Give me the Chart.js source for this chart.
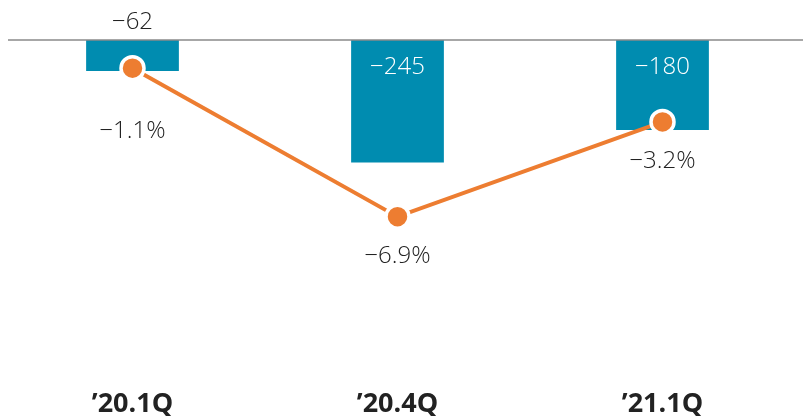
<!DOCTYPE html>
<html>
<head>
<meta charset="utf-8">
<script src="https://cdn.jsdelivr.net/npm/chart.js@4.4.1/dist/chart.umd.min.js"></script>
<style>
  html, body { margin: 0; padding: 0; background: #fff; }
  #wrap { width: 803px; height: 416px; }
</style>
</head>
<body>
<div id="wrap"><canvas id="chart"></canvas></div>
<script>
const categories = ["\u201920.1Q", "\u201920.4Q", "\u201921.1Q"];
const barValues = [-62, -245, -180];
const rateValues = [-1.1, -6.9, -3.2];

const BAR_COLOR = "rgb(0, 140, 176)";
const LINE_COLOR = "rgb(237, 125, 49)";
const TEXT_COLOR = "#222";
const FONT = "'Open Sans', 'Noto Sans', sans-serif";

const fmt = (v, suffix) => (v < 0 ? "\u2212" : "") + Math.abs(v).toFixed(suffix ? 1 : 0) + (suffix || "");

// labels + baseline drawn by hand
const labelPlugin = {
  id: "labels",
  afterDatasetsDraw(chart) {
    const ctx = chart.ctx;
    const y0 = chart.scales.y.getPixelForValue(0);

    ctx.save();
    ctx.strokeStyle = "#8a8a8a";
    ctx.lineWidth = 1.5;
    ctx.beginPath();
    ctx.moveTo(8, y0);
    ctx.lineTo(chart.width, y0);
    ctx.stroke();

    ctx.font = "300 24px " + FONT;
    ctx.textAlign = "center";
    ctx.textBaseline = "middle";

    const bars = chart.getDatasetMeta(1).data;
    bars.forEach((bar, i) => {
      const h = Math.abs(bar.base - bar.y);
      if (h < 60) {
        ctx.fillStyle = TEXT_COLOR;
        ctx.fillText(fmt(barValues[i]), bar.x, y0 - 18);
      } else {
        ctx.fillStyle = "#fff";
        ctx.fillText(fmt(barValues[i]), bar.x, y0 + 27);
      }
    });

    const pts = chart.getDatasetMeta(0).data;
    const offsets = [63, 40, 39];
    ctx.fillStyle = TEXT_COLOR;
    pts.forEach((p, i) => {
      ctx.fillText(fmt(rateValues[i], "%"), p.x, p.y + offsets[i]);
    });
    ctx.restore();
  }
};

new Chart(document.getElementById("chart"), {
  type: "bar",
  data: {
    labels: categories,
    datasets: [
      {
        type: "line",
        label: "rate",
        data: rateValues,
        yAxisID: "y1",
        borderColor: LINE_COLOR,
        borderWidth: 4,
        pointBackgroundColor: LINE_COLOR,
        pointBorderColor: "#fff",
        pointBorderWidth: 3.5,
        pointRadius: 11.5,
        tension: 0,
        order: 0
      },
      {
        label: "value",
        data: barValues,
        yAxisID: "y",
        backgroundColor: BAR_COLOR,
        categoryPercentage: 1,
        barPercentage: 0.35,
        order: 1
      }
    ]
  },
  options: {
    responsive: true,
    maintainAspectRatio: false,
    animation: false,
    layout: { autoPadding: false, padding: { top: 40, right: 8, left: 0, bottom: -12 } },
    plugins: {
      legend: { display: false },
      tooltip: { enabled: false }
    },
    scales: {
      x: {
        grid: { display: false, drawTicks: false },
        border: { display: false },
        ticks: {
          color: TEXT_COLOR,
          padding: 10,
          font: { family: FONT, size: 27, weight: "bold", lineHeight: 1 }
        }
      },
      y: {
        display: false,
        min: -682,
        max: 0
      },
      y1: {
        display: false,
        min: -13.32,
        max: 0
      }
    }
  },
  plugins: [labelPlugin]
});
</script>
</body>
</html>
